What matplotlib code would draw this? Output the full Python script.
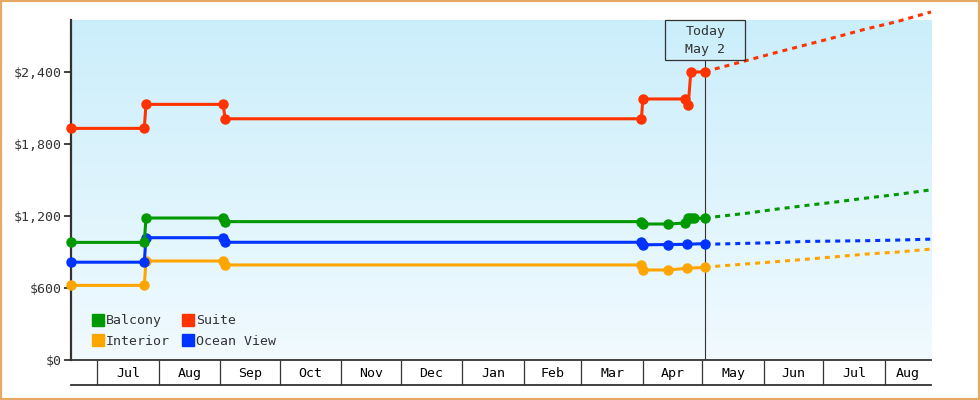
import matplotlib
matplotlib.use("Agg")
import matplotlib.pyplot as plt
import matplotlib.dates as mdates
import matplotlib.colors as mcolors
from matplotlib.lines import Line2D
from matplotlib.patches import Rectangle
import numpy as np
import pandas as pd

plt.rcParams['font.family'] = ['DejaVu Sans Mono', 'DejaVu Sans']
plt.rcParams['lines.scale_dashes'] = False

# ---------------- data ----------------
TODAY = "2024-05-02 12:00"

suite_dates = ["2023-06-17 18:00", "2023-07-24 17:00", "2023-07-25 13:00", "2023-09-02 12:00",
               "2023-09-03 10:00", "2024-03-31 08:00", "2024-04-01 00:00", "2024-04-22 12:00",
               "2024-04-23 22:00", "2024-04-25 05:00", "2024-05-02 12:00"]
suite_prices = [1930, 1930, 2130, 2130, 2010, 2010, 2175, 2175, 2125, 2400, 2400]

balcony_dates = ["2023-06-17 18:00", "2023-07-24 17:00", "2023-07-25 13:00", "2023-09-02 12:00",
                 "2023-09-03 10:00", "2024-03-31 08:00", "2024-04-01 00:00", "2024-04-13 20:00",
                 "2024-04-22 12:00", "2024-04-23 22:00", "2024-04-25 05:00", "2024-04-27 00:00",
                 "2024-05-02 12:00"]
balcony_prices = [980, 980, 1183, 1183, 1153, 1153, 1133, 1133, 1142, 1181, 1183, 1181, 1181]

ocean_dates = ["2023-06-17 18:00", "2023-07-24 17:00", "2023-07-25 13:00", "2023-09-02 12:00",
               "2023-09-03 10:00", "2024-03-31 08:00", "2024-04-01 00:00", "2024-04-13 20:00",
               "2024-04-23 02:00", "2024-05-02 12:00"]
ocean_prices = [815, 815, 1019, 1019, 981, 981, 960, 962, 964, 970]

interior_dates = ["2023-06-17 18:00", "2023-07-24 17:00", "2023-07-25 13:00", "2023-09-02 12:00",
                  "2023-09-03 10:00", "2024-03-31 08:00", "2024-04-01 00:00", "2024-04-13 20:00",
                  "2024-04-23 02:00", "2024-05-02 12:00"]
interior_prices = [622, 622, 825, 825, 792, 792, 750, 750, 764, 772]

forecast_dates = ["2024-05-02 12:00", "2024-05-08 00:00", "2024-05-23 00:00", "2024-06-07 00:00",
                  "2024-06-22 00:00", "2024-07-07 00:00", "2024-07-22 00:00", "2024-08-07 00:00",
                  "2024-08-24 07:00"]
suite_forecast = [2400, 2428, 2494, 2561, 2625, 2689, 2756, 2819, 2900]
balcony_forecast = [1181, 1194, 1222, 1256, 1287, 1316, 1348, 1379, 1418]
ocean_forecast = [970, 966, 972, 978, 988, 991, 994, 999, 1007]
interior_forecast = [772, 781, 800, 819, 839, 860, 882, 899, 924]

series_names = ["Balcony", "Interior", "Suite", "Ocean View"]
series_colors = ["#009900", "#ffa500", "#ff3300", "#0033ff"]

y_ticks = [0, 600, 1200, 1800, 2400]
y_max = 2833

FMT = "%Y-%m-%d %H:%M"

# ---------------- figure ----------------
W, H, DPI = 980, 400, 100
fig = plt.figure(figsize=(W / DPI, H / DPI), dpi=DPI)
fig.patch.set_facecolor("white")
L, R, B, T = 71, 931, 360, 20
ax = fig.add_axes([L / W, 1 - B / H, (R - L) / W, (B - T) / H])
ax.set_facecolor("none")

TXT = "#333333"

# gradient background
top_c = np.array(mcolors.to_rgb("#cbeefb"))
bot_c = np.array(mcolors.to_rgb("#f1faff"))
g = np.linspace(0, 1, 256)[:, None, None]
img = top_c[None, None, :] + (bot_c - top_c)[None, None, :] * g
ax.imshow(img, extent=[0, 1, 0, 1], transform=ax.transAxes, aspect="auto",
          origin="upper", zorder=0, interpolation="bilinear")

data = {
    "Balcony": (balcony_dates, balcony_prices, balcony_forecast),
    "Interior": (interior_dates, interior_prices, interior_forecast),
    "Suite": (suite_dates, suite_prices, suite_forecast),
    "Ocean View": (ocean_dates, ocean_prices, ocean_forecast),
}
draw_order = ["Interior", "Ocean View", "Balcony", "Suite"]
color_of = dict(zip(series_names, series_colors))
fdates = pd.to_datetime(forecast_dates, format=FMT)

for name in draw_order:
    d, v, f = data[name]
    c = color_of[name]
    ax.plot(pd.to_datetime(d, format=FMT), v, color=c, lw=2.2, marker="o", ms=6.5, zorder=4,
            clip_on=False)
    ax.plot(fdates, f, color=c, lw=2.2, dashes=(3.6, 3.6), zorder=3, clip_on=False)

today = pd.Timestamp(TODAY)
x_left = pd.Timestamp(suite_dates[0])
x_right = fdates[-1]
ax.set_xlim(x_left, x_right)
ax.set_ylim(0, y_max)

# today line
box_h = 40
ax.axvline(today, ymin=0, ymax=1 - box_h / (B - T), color=TXT, lw=0.8, zorder=2)

# y axis
ax.set_yticks(y_ticks)
ax.set_yticklabels([f"${v:,}" for v in y_ticks])
ax.tick_params(axis="y", length=5, width=1.3, color=TXT, labelcolor=TXT, labelsize=9.5, pad=2)

for s in ["top", "right"]:
    ax.spines[s].set_visible(False)
ax.spines["left"].set_color(TXT)
ax.spines["left"].set_linewidth(1.6)
ax.spines["bottom"].set_color(TXT)
ax.spines["bottom"].set_linewidth(1.3)

# x axis: month separators and centred labels
band = 25  # px
ax.xaxis.set_major_locator(mdates.MonthLocator())
ax.xaxis.set_major_formatter(plt.NullFormatter())
ax.tick_params(axis="x", which="major", length=band * 72 / DPI, width=0.9, color=TXT)

month_starts = list(pd.date_range(x_left.normalize() + pd.offsets.MonthBegin(1), x_right, freq="MS"))
bounds = [x_left] + month_starts + [x_right]
mids, labs = [], []
for a, b in zip(bounds[:-1], bounds[1:]):
    if (b - a).days >= 20:
        mids.append(a + (b - a) / 2)
        labs.append(a.strftime("%b"))
ax.set_xticks(mids, minor=True)
ax.set_xticklabels(labs, minor=True)
ax.tick_params(axis="x", which="minor", length=0, labelsize=9.5, labelcolor="black", pad=5)

ax.plot([0, 1], [-band / (B - T)] * 2, transform=ax.transAxes, color=TXT, lw=1.3,
        clip_on=False)

# legend
handles = [Line2D([], [], marker="s", ms=8, ls="none", color=color_of[n], label=n)
           for n in series_names]
leg = ax.legend(handles=handles, ncol=2, loc="lower left", bbox_to_anchor=(0.024, 0.035),
                frameon=False, handletextpad=0.1, columnspacing=0.85, labelspacing=0.58,
                handlelength=1.0, fontsize=9.5, borderaxespad=0, borderpad=0)
for t in leg.get_texts():
    t.set_color(TXT)

# today box
fig.canvas.draw()
xpix = ax.transData.transform((mdates.date2num(today), 0))[0]
ytop = H - T
fig.add_artist(Rectangle((xpix - 40, ytop - box_h), 80, box_h, transform=None,
                         fill=False, ec=TXT, lw=0.9, zorder=5))
fig.text(xpix / W, (ytop - 12) / H, "Today", ha="center", va="center", fontsize=9.5, color=TXT)
fig.text(xpix / W, (ytop - 30) / H, f"{today.strftime('%b')} {today.day}", ha="center",
         va="center", fontsize=9.5, color=TXT)

# outer frame
fig.add_artist(Rectangle((0, 0), 1, 1, transform=fig.transFigure, fill=False,
                         ec="#e8a865", lw=3))

fig.savefig("out.png", dpi=DPI)
